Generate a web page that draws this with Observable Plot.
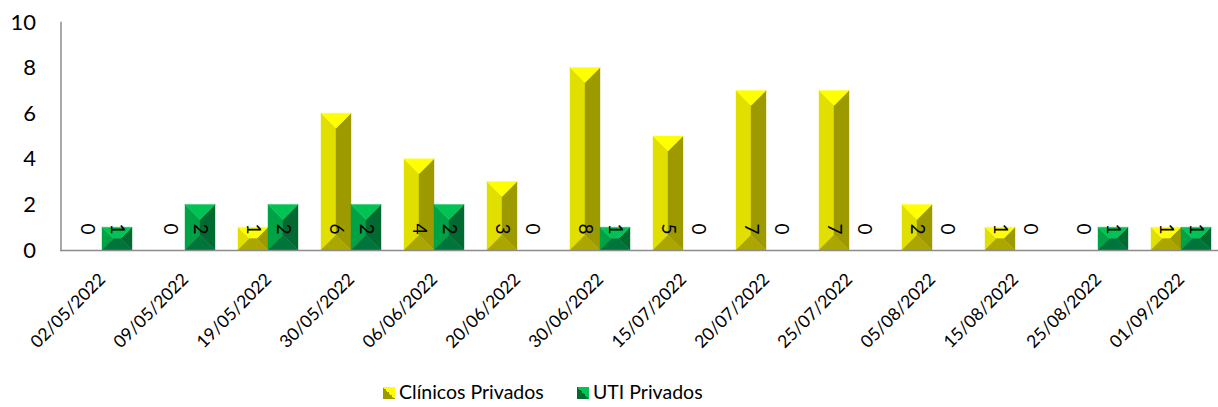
<!DOCTYPE html>
<html>
<head>
<meta charset="utf-8">
<script src="https://cdn.jsdelivr.net/npm/d3@7"></script>
<script src="https://cdn.jsdelivr.net/npm/@observablehq/plot@0.6"></script>
<style>
  html, body { margin: 0; padding: 0; background: #fff; overflow: hidden; }
  #chart svg { display: block; }
  #legend { position: relative; height: 37px; font-family: Lato, sans-serif; font-size: 19.5px; color: #000; }
  .item { position: absolute; top: 10px; display: flex; align-items: flex-end; }
  .sw { width: 12px; height: 12px; margin-right: 4px; margin-bottom: 4px; }
</style>
</head>
<body>
<div id="chart"></div>
<div id="legend"></div>
<script>
// ---- data ----
const dates = ["02/05/2022","09/05/2022","19/05/2022","30/05/2022","06/06/2022","20/06/2022","30/06/2022","15/07/2022","20/07/2022","25/07/2022","05/08/2022","15/08/2022","25/08/2022","01/09/2022"];
const clinicos = [0,0,1,6,4,3,8,5,7,7,2,1,0,1];
const uti = [1,2,2,2,2,0,1,0,0,0,0,0,1,1];
const seriesNames = ["Clínicos Privados", "UTI Privados"];
const yTicks = [0,2,4,6,8,10];

// bevel face colours: top, left, right, bottom
const yellowFaces = {top: "#ffff00", left: "#e0df00", right: "#9d9a00", bottom: "#aba600"};
const greenFaces  = {top: "#00c353", left: "#00a246", right: "#006a31", bottom: "#00753b"};

const rows = dates.map((date, i) => ({date, clin: clinicos[i], uti: uti[i]}));

const chart = Plot.plot({
  width: 1218,
  height: 370,
  marginTop: 22,
  marginBottom: 120,
  marginLeft: 60.5,
  marginRight: -4.5,
  x: {domain: dates, paddingInner: 0.277, paddingOuter: 0.1385, label: null},
  y: {domain: [0, 10], label: null},
  style: {fontFamily: "Lato, sans-serif", fontSize: "18px", color: "#000", background: "#fff"},
  marks: [
    Plot.axisY({ticks: yTicks, tickSize: 0, tickPadding: 25, fontSize: 22, label: null}),
    Plot.axisX({tickRotate: -45, tickSize: 0, tickPadding: 26, dx: 0, fontSize: 17.5, label: null}),
    Plot.barY(rows, {x: "date", y: "clin", insetRight: 30, fill: yellowFaces.left}),
    Plot.barY(rows, {x: "date", y: "uti", insetLeft: 30, fill: greenFaces.left}),
    Plot.ruleY([0], {stroke: "#8c8c8c", strokeWidth: 1.5}),
    Plot.frame({anchor: "left", stroke: "#8c8c8c", strokeWidth: 1.5}),
    Plot.text(rows, {x: "date", y: () => 0, text: d => String(d.clin), rotate: 90, textAnchor: "end", lineAnchor: "middle", dx: -15, dy: -16, fontSize: 19, fill: "#000"}),
    Plot.text(rows, {x: "date", y: () => 0, text: d => String(d.uti), rotate: 90, textAnchor: "end", lineAnchor: "middle", dx: 15, dy: -16, fontSize: 19, fill: "#000"})
  ]
});

// turn each bar rect into a bevelled (pyramid) box
const NS = "http://www.w3.org/2000/svg";
const palettes = [yellowFaces, greenFaces];
chart.querySelectorAll('g[aria-label="bar"]').forEach((g, gi) => {
  const pal = palettes[gi];
  Array.from(g.querySelectorAll("rect")).forEach(r => {
    const x0 = +r.getAttribute("x"), y0 = +r.getAttribute("y");
    const w = +r.getAttribute("width"), h = +r.getAttribute("height");
    if (!(h > 0.5)) { r.remove(); return; }
    const x1 = x0 + w, y1 = y0 + h, d = Math.min(w, h) / 2;
    const faces = [
      [pal.left,   [[x0,y1],[x0,y0],[x0+d,y0+d],[x0+d,y1-d]]],
      [pal.right,  [[x1,y0],[x1,y1],[x1-d,y1-d],[x1-d,y0+d]]],
      [pal.top,    [[x0,y0],[x1,y0],[x1-d,y0+d],[x0+d,y0+d]]],
      [pal.bottom, [[x1,y1],[x0,y1],[x0+d,y1-d],[x1-d,y1-d]]]
    ];
    for (const [fill, pts] of faces) {
      const p = document.createElementNS(NS, "polygon");
      p.setAttribute("points", pts.map(q => q.join(",")).join(" "));
      p.setAttribute("fill", fill);
      p.setAttribute("stroke", fill);
      p.setAttribute("stroke-width", "0.4");
      g.insertBefore(p, r);
    }
    r.remove();
  });
});

document.getElementById("chart").appendChild(chart);

// legend
const legend = document.getElementById("legend");
const items = [
  {name: seriesNames[0], pal: yellowFaces, left: 383},
  {name: seriesNames[1], pal: greenFaces, left: 577}
];
for (const it of items) {
  const div = document.createElement("div");
  div.className = "item";
  div.style.left = it.left + "px";
  const sw = document.createElement("span");
  sw.className = "sw";
  sw.style.background = `linear-gradient(45deg, ${it.pal.right} 50%, ${it.pal.top} 50%)`;
  const tx = document.createElement("span");
  tx.textContent = it.name;
  div.appendChild(sw);
  div.appendChild(tx);
  legend.appendChild(div);
}
</script>
</body>
</html>
